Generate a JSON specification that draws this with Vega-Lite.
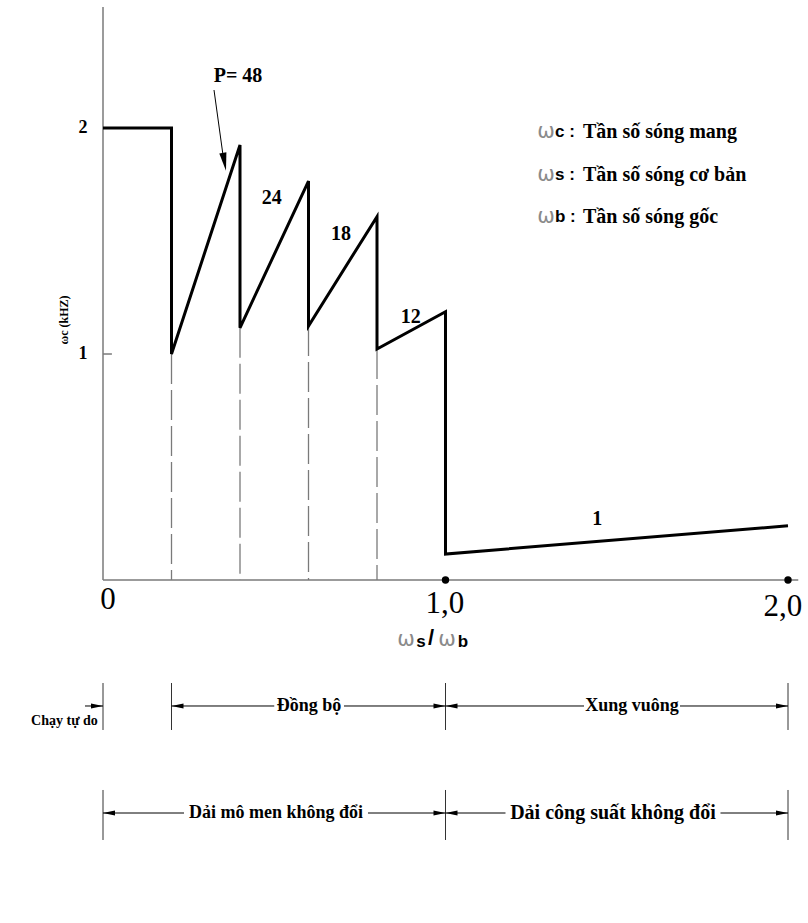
{
  "$schema": "https://vega.github.io/schema/vega-lite/v6.json",
  "width": 808,
  "height": 923,
  "autosize": {"type": "none"},
  "padding": 0,
  "background": "white",
  "config": {"view": {"stroke": null}, "text": {"font": "Liberation Serif", "color": "black"}},
  "encoding": {
    "x": {"field": "x", "type": "quantitative", "scale": {"domain": [-0.30073, 2.05839], "nice": false, "zero": false}, "axis": null},
    "y": {"field": "y", "type": "quantitative", "scale": {"domain": [-1.5177, 2.5664], "nice": false, "zero": false}, "axis": null}
  },
  "layer": [
    {
      "data": {"values": [
        {"x": 0, "y": 0, "x2": 2.03, "y2": 0},
        {"x": 0, "y": 0, "x2": 0, "y2": 2.535},
        {"x": 0, "y": 1, "x2": 0.026, "y2": 1}
      ]},
      "mark": {"type": "rule", "color": "#7a7a7a", "strokeWidth": 1.5},
      "encoding": {"x2": {"field": "x2"}, "y2": {"field": "y2"}}
    },
    {
      "data": {"values": [
        {"x": 0.2, "y": 1.0, "y2": 0},
        {"x": 0.4, "y": 1.116, "y2": 0},
        {"x": 0.6, "y": 1.124, "y2": 0},
        {"x": 0.8, "y": 1.022, "y2": 0}
      ]},
      "mark": {"type": "rule", "color": "#7a7a7a", "strokeWidth": 1.3, "strokeDash": [30, 6]},
      "encoding": {"y2": {"field": "y2"}}
    },
    {
      "data": {"values": [
        {"i": 1, "x": 0, "y": 2.0},
        {"i": 2, "x": 0.2, "y": 2.0},
        {"i": 3, "x": 0.2, "y": 1.0},
        {"i": 4, "x": 0.4, "y": 1.925},
        {"i": 5, "x": 0.4, "y": 1.116},
        {"i": 6, "x": 0.6, "y": 1.765},
        {"i": 7, "x": 0.6, "y": 1.124},
        {"i": 8, "x": 0.8, "y": 1.608},
        {"i": 9, "x": 0.8, "y": 1.022},
        {"i": 10, "x": 1.0, "y": 1.187},
        {"i": 11, "x": 1.0, "y": 0.115},
        {"i": 12, "x": 2.0, "y": 0.24}
      ]},
      "mark": {"type": "line", "color": "black", "strokeWidth": 3, "strokeJoin": "miter"},
      "encoding": {"order": {"field": "i", "type": "quantitative"}}
    },
    {
      "data": {"values": [{"x": 1.0, "y": 0}, {"x": 2.0, "y": 0}]},
      "mark": {"type": "point", "filled": true, "color": "black", "size": 55, "opacity": 1}
    },
    {
      "data": {"values": [{"x": 0.3241, "y": 2.1681, "x2": 0.3495, "y2": 1.8894}]},
      "mark": {"type": "rule", "color": "black", "strokeWidth": 1},
      "encoding": {"x2": {"field": "x2"}, "y2": {"field": "y2"}}
    },
    {
      "data": {"values": [{"x": 0.3545, "y": 1.8504}]},
      "mark": {"type": "point", "filled": true, "color": "black", "opacity": 1, "size": 324, "angle": 350, "shape": "M 0 1 L -0.4 -1 L 0.4 -1 Z"}
    },
    {
      "data": {"values": [
        {"x": 0.3942, "y": 2.2301, "label": "P= 48"},
        {"x": 0.4926, "y": 1.689, "label": "24"},
        {"x": 0.6949, "y": 1.5296, "label": "18"},
        {"x": 0.8984, "y": 1.165, "label": "12"},
        {"x": 1.4433, "y": 0.2686, "label": "1"}
      ]},
      "mark": {"type": "text", "fontSize": 20, "fontWeight": 600, "baseline": "middle", "align": "center"},
      "encoding": {"text": {"field": "label"}}
    },
    {
      "data": {"values": [
        {"x": -0.045, "y": 2, "label": "2"},
        {"x": -0.045, "y": 1, "label": "1"}
      ]},
      "mark": {"type": "text", "fontSize": 18, "fontWeight": "bold", "baseline": "middle", "align": "right"},
      "encoding": {"text": {"field": "label"}}
    },
    {
      "data": {"values": [{"x": -0.1138, "y": 1.1504, "label": "ωc (kHZ)"}]},
      "mark": {"type": "text", "fontSize": 12, "fontWeight": "bold", "baseline": "middle", "align": "center", "angle": 270},
      "encoding": {"text": {"field": "label"}}
    },
    {
      "data": {"values": [
        {"x": 0.0146, "y": -0.0885, "label": "0"},
        {"x": 0.9985, "y": -0.1062, "label": "1,0"},
        {"x": 1.985, "y": -0.1195, "label": "2,0"}
      ]},
      "mark": {"type": "text", "fontSize": 31, "baseline": "middle", "align": "center"},
      "encoding": {"text": {"field": "label"}}
    },
    {
      "data": {"values": [
        {"x": 0.8847, "y": -0.2655, "label": "ω"},
        {"x": 1.0044, "y": -0.2655, "label": "ω"},
        {"x": 1.2934, "y": 1.982, "label": "ω"},
        {"x": 1.2934, "y": 1.792, "label": "ω"},
        {"x": 1.2934, "y": 1.606, "label": "ω"}
      ]},
      "mark": {"type": "text", "font": "DejaVu Sans", "fontSize": 21, "fontWeight": "normal", "baseline": "middle", "align": "center", "color": "#8a8a8a"},
      "encoding": {"text": {"field": "label"}}
    },
    {
      "data": {"values": [
        {"x": 0.9285, "y": -0.2744, "label": "s"},
        {"x": 1.0511, "y": -0.2744, "label": "b"}
      ]},
      "mark": {"type": "text", "font": "Liberation Sans", "fontSize": 17, "fontWeight": "bold", "baseline": "middle", "align": "center"},
      "encoding": {"text": {"field": "label"}}
    },
    {
      "data": {"values": [{"x": 0.9577, "y": -0.2566, "label": "/"}]},
      "mark": {"type": "text", "font": "Liberation Sans", "fontSize": 22, "fontWeight": "bold", "baseline": "middle", "align": "center"},
      "encoding": {"text": {"field": "label"}}
    },
    {
      "data": {"values": [
        {"x": 1.3197, "y": 1.982, "label": "c :"},
        {"x": 1.3197, "y": 1.792, "label": "s :"},
        {"x": 1.3197, "y": 1.606, "label": "b :"}
      ]},
      "mark": {"type": "text", "font": "Liberation Sans", "fontSize": 17, "fontWeight": "bold", "baseline": "middle", "align": "left"},
      "encoding": {"text": {"field": "label"}}
    },
    {
      "data": {"values": [
        {"x": 1.4015, "y": 1.982, "label": "Tần số sóng mang"},
        {"x": 1.4015, "y": 1.792, "label": "Tần số sóng cơ bản"},
        {"x": 1.4015, "y": 1.606, "label": "Tần số sóng gốc"}
      ]},
      "mark": {"type": "text", "fontSize": 20, "fontWeight": "bold", "baseline": "middle", "align": "left"},
      "encoding": {"text": {"field": "label"}}
    },
    {
      "data": {"values": [
        {"x": 0, "y": -0.4558, "y2": -0.6637},
        {"x": 0.2, "y": -0.4558, "y2": -0.6637},
        {"x": 1.0, "y": -0.4558, "y2": -0.6637},
        {"x": 2.0, "y": -0.4558, "y2": -0.6637},
        {"x": 0, "y": -0.9292, "y2": -1.1504},
        {"x": 1.0, "y": -0.9292, "y2": -1.1504},
        {"x": 2.0, "y": -0.9292, "y2": -1.1504}
      ]},
      "mark": {"type": "rule", "color": "#333333", "strokeWidth": 1},
      "encoding": {"y2": {"field": "y2"}}
    },
    {
      "data": {"values": [
        {"x": -0.0526, "x2": 0, "y": -0.5575},
        {"x": 0.2, "x2": 0.5, "y": -0.5575},
        {"x": 0.7036, "x2": 1.0, "y": -0.5575},
        {"x": 1.0, "x2": 1.4044, "y": -0.5575},
        {"x": 1.6847, "x2": 2.0, "y": -0.5575},
        {"x": 0, "x2": 0.2365, "y": -1.031},
        {"x": 0.7737, "x2": 1.0, "y": -1.031},
        {"x": 1.0, "x2": 1.1752, "y": -1.031},
        {"x": 1.8029, "x2": 2.0, "y": -1.031}
      ]},
      "mark": {"type": "rule", "color": "black", "strokeWidth": 1},
      "encoding": {"x2": {"field": "x2"}}
    },
    {
      "data": {"values": [
        {"x": -0.0175, "y": -0.5575},
        {"x": 0.9825, "y": -0.5575},
        {"x": 1.9825, "y": -0.5575},
        {"x": 0.9825, "y": -1.031},
        {"x": 1.9825, "y": -1.031}
      ]},
      "mark": {"type": "point", "filled": true, "color": "black", "opacity": 1, "size": 144, "shape": "M 1 0 L -1 -0.4 L -1 0.4 Z"}
    },
    {
      "data": {"values": [
        {"x": 0.2175, "y": -0.5575},
        {"x": 1.0175, "y": -0.5575},
        {"x": 0.0175, "y": -1.031},
        {"x": 1.0175, "y": -1.031}
      ]},
      "mark": {"type": "point", "filled": true, "color": "black", "opacity": 1, "size": 144, "shape": "M -1 0 L 1 -0.4 L 1 0.4 Z"}
    },
    {
      "data": {"values": [
        {"x": 0.6015, "y": -0.5575, "label": "Đồng bộ"},
        {"x": 1.5445, "y": -0.5575, "label": "Xung vuông"},
        {"x": 0.505, "y": -1.031, "label": "Dải mô men không đổi"}
      ]},
      "mark": {"type": "text", "fontSize": 18, "fontWeight": "bold", "baseline": "middle", "align": "center"},
      "encoding": {"text": {"field": "label"}}
    },
    {
      "data": {"values": [
        {"x": 1.489, "y": -1.031, "label": "Dải công suất không đổi"}
      ]},
      "mark": {"type": "text", "fontSize": 20, "fontWeight": "bold", "baseline": "middle", "align": "center"},
      "encoding": {"text": {"field": "label"}}
    },
    {
      "data": {"values": [{"x": -0.015, "y": -0.6239, "label": "Chạy tự do"}]},
      "mark": {"type": "text", "fontSize": 14, "fontWeight": "bold", "baseline": "middle", "align": "right"},
      "encoding": {"text": {"field": "label"}}
    }
  ]
}
